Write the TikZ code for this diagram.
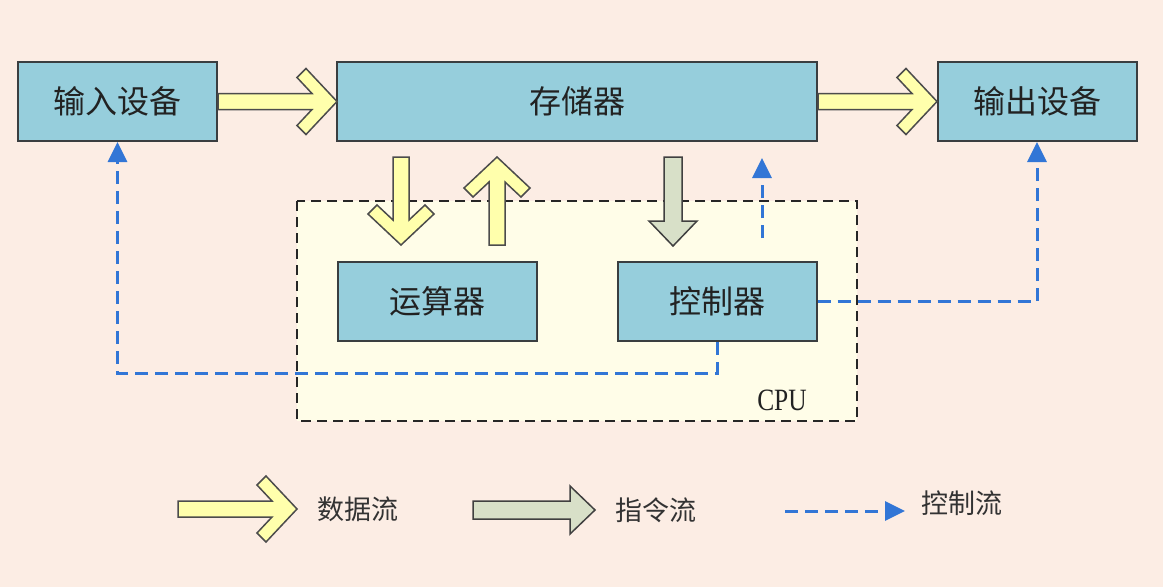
\documentclass[tikz,border=0pt]{standalone}
\usepackage{fontspec}
\newfontfamily\cjk{Noto Sans CJK SC}
\newfontfamily\cpufont{Liberation Serif}
\usetikzlibrary{arrows.meta}
\definecolor{bgc}{RGB}{252,237,228}
\definecolor{cpufill}{RGB}{255,253,232}
\definecolor{boxfill}{RGB}{150,206,220}
\definecolor{boxline}{RGB}{58,62,64}
\definecolor{datafill}{RGB}{255,255,172}
\definecolor{instfill}{RGB}{216,224,200}
\definecolor{ctrlblue}{RGB}{50,118,214}
\definecolor{txt}{RGB}{34,34,34}
\definecolor{legtxt}{RGB}{51,51,51}
\tikzset{
  unitbox/.style={draw=boxline, line width=2pt, fill=boxfill, minimum width=199pt, minimum height=79pt, inner sep=0pt, font=\cjk\fontsize{32}{36}\selectfont, text=txt},
  cpubox/.style={draw=black!85, line width=1.6pt, fill=cpufill, dash pattern=on 10pt off 6pt},
  dataarrow/.style={draw=black!70, line width=1.5pt, fill=datafill, line join=miter},
  instarrow/.style={draw=black!75, line width=1.5pt, fill=instfill, line join=miter},
  ctrl/.style={draw=ctrlblue, line width=3pt, dash pattern=on 13pt off 7pt, -{Triangle[length=20pt,width=19pt]}},
  legendtext/.style={font=\cjk\fontsize{27}{30}\selectfont, text=legtxt, anchor=west, inner sep=0pt},
  pics/fatarrow/.style={code={
    \draw[dataarrow] (0,-8) -- ({#1-25},-8) -- ({#1-40},-24) -- ({#1-31},-33) -- (#1,0)
      -- ({#1-31},33) -- ({#1-40},24) -- ({#1-25},8) -- (0,8) -- cycle;}},
  pics/instarrow/.style={code={
    \draw[instarrow] (0,-9) -- ({#1-25},-9) -- ({#1-25},-24) -- (#1,0) -- ({#1-25},24) -- ({#1-25},9) -- (0,9) -- cycle;}}
}
\begin{document}
\begin{tikzpicture}[x=1pt,y=-1pt]
\fill[bgc] (0,0) rectangle (1163,587);
\useasboundingbox (0,0) rectangle (1163,587);
% CPU region
\draw[cpubox] (297,201) rectangle (857,421);
\node[font=\cpufont\fontsize{31}{34}\selectfont, text=txt, xscale=0.82] (cpulabel) at (782,400) {CPU};
% units
\node[unitbox] (in) at (117.5,101.5) {输入设备};
\node[unitbox, minimum width=480pt] (mem) at (577,101.5) {存储器};
\node[unitbox] (out) at (1037,101.5) {输出设备};
\node[unitbox] (alu) at (437,301.5) {运算器};
\node[unitbox] (ctl) at (717,301.5) {控制器};
% data flow
\pic at (in.east) {fatarrow=119};
\pic at (mem.east) {fatarrow=119};
\pic[rotate=-90] at (401,157) {fatarrow=88};
\pic[rotate=90] at (497,245) {fatarrow=88};
% instruction flow
\pic[rotate=-90] at (673,157) {instarrow=89};
% control flow
\coordinate (cu1) at (762,238);
\coordinate (cu2) at (762,158);
\draw[ctrl] (cu1) -- (cu2);
\draw[ctrl] (ctl.south) -- ++(0,31) -| (in.south);
\draw[ctrl] (ctl.east) -| (out.south);
% legend
\pic at (178,509) {fatarrow=119};
\node[legendtext] (l1) at (317,509) {数据流};
\pic at (473,510) {instarrow=122};
\node[legendtext] (l2) at (615,510) {指令流};
\coordinate (lc1) at (785,511);
\coordinate (lc2) at (905,511);
\draw[ctrl] (lc1) -- (lc2);
\node[legendtext] (l3) at (921,503) {控制流};
\end{tikzpicture}
\end{document}
